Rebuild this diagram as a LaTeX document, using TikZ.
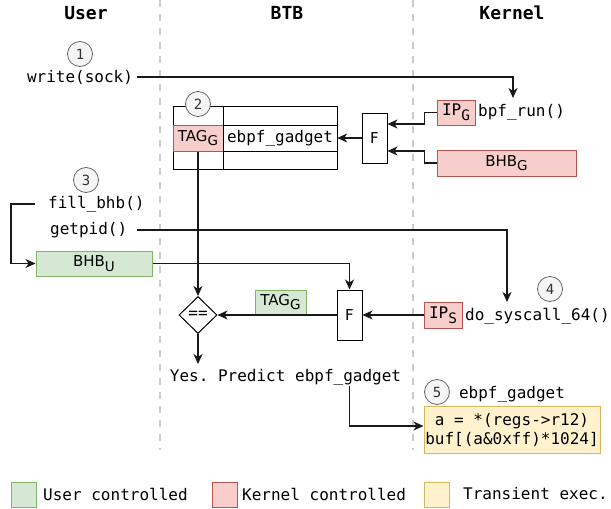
\documentclass[tikz,border=0pt]{standalone}
\usepackage{fontspec}
\setmainfont{DejaVu Sans}
\setmonofont{DejaVu Sans Mono}
\usetikzlibrary{arrows.meta,shapes.geometric,calc}
\definecolor{gfill}{HTML}{D5E8D4}\definecolor{gline}{HTML}{82B366}
\definecolor{rfill}{HTML}{F8CECC}\definecolor{rline}{HTML}{B85450}
\definecolor{yfill}{HTML}{FFF2CC}\definecolor{yline}{HTML}{D6B656}
\definecolor{cfill}{HTML}{F5F5F5}\definecolor{cline}{HTML}{666666}
\definecolor{lanec}{HTML}{CCCCCC}
\newcommand\lsub[1]{\raisebox{-0.3em}{\scalebox{0.9}{#1}}}
\begin{document}
\begin{tikzpicture}[x=1pt,y=-1pt,
  mono/.style={font=\fontsize{16}{19}\selectfont\ttfamily, inner sep=1pt},
  head/.style={font=\fontsize{18}{20}\selectfont\ttfamily\bfseries, inner sep=0},
  sans/.style={font=\fontsize{15}{17}\selectfont},
  boxbase/.style={line width=1pt, inner sep=0},
  gbox/.style={boxbase, draw=gline, fill=gfill, sans},
  rbox/.style={boxbase, draw=rline, fill=rfill},
  ybox/.style={boxbase, draw=yline, fill=yfill},
  fbox/.style={boxbase, draw=black, fill=white, sans, minimum width=25pt, minimum height=50pt},
  num/.style={circle, draw=cline, fill=cfill, line width=0.8pt, minimum size=25pt, inner sep=0,
    font=\fontsize{14}{14}\selectfont\ttfamily, text=black!80},
  conn/.style={line width=1.2pt, draw=black!90},
  arr/.style={conn, -{Stealth[length=10pt,width=9pt,inset=3pt]}},
  lanel/.style={draw=lanec, line width=2pt, dash pattern=on 7pt off 7pt}
]
\useasboundingbox (0,0) rectangle (611,509);

% lanes
\coordinate (l1t) at (160,0); \coordinate (l1b) at (160,450);
\coordinate (l2t) at (413,0); \coordinate (l2b) at (413,450);
\draw[lanel] (l1t) -- (l1b);
\draw[lanel] (l2t) -- (l2b);

% headers
\node[head] (hu) at (86,13) {User};
\node[head] (hb) at (287,13) {BTB};
\node[head] (hk) at (512,13) {Kernel};

% step 1
\node[mono] (write) at (80,77) {write(sock)};
\node[num] (n1) at (80,54) {1};
\coordinate (c1) at (513,98);
\draw[arr] (write.east) ++(3,0) -| (c1);

% BTB table
\draw[line width=1pt] (173,106) rectangle (337,169);
\draw[line width=1pt] (173,125) -- (337,125);
\draw[line width=1pt] (173,151) -- (337,151);
\node[rbox, sans, minimum width=50pt, minimum height=26pt] (tagg) at (198,138) {TAG\lsub{G}};
\draw[line width=1pt] (223,106) -- (223,169);
\node[mono, inner sep=0, minimum width=114pt, minimum height=26pt] (ebpf) at (280,138) {ebpf\_gadget};
\node[num] (n2) at (198,104) {2};

% F1 and kernel inputs
\node[fbox] (f1) at (374.5,138) {F};
\node[rbox, mono, inner sep=0, minimum width=38pt, minimum height=25pt] (ipg) at (456,112.5) {IP\lsub{G}};
\node[mono, anchor=west] (bpfrun) at (477,112) {bpf\_run()};
\node[rbox, sans, minimum width=139pt, minimum height=26pt] (bhbg) at (506.5,163) {BHB\lsub{G}};
\draw[arr] (f1.west) -- (ebpf.east);
\draw[arr] (ipg.west) -- ++(-12,0) |- ([yshift=14pt]f1.east);
\draw[arr] (bhbg.west) -- ++(-12,0) |- ([yshift=-13pt]f1.east);

% step 3
\node[num] (n3) at (86,180) {3};
\node[mono, anchor=west] (fill) at (47,204) {fill\_bhb()};
\node[mono, anchor=west] (getpid) at (49,230) {getpid()};
\node[gbox, minimum width=116pt, minimum height=25pt] (bhbu) at (94,263.5) {BHB\lsub{U}};
\draw[arr] ([xshift=-12pt]fill.west) -- (11,204) |- (bhbu.west);
\coordinate (c4) at (507,302);
\draw[arr] ([xshift=9pt]getpid.east) -| (c4);

% comparison
\node[boxbase, draw=black, fill=white, diamond, minimum width=38pt, minimum height=37pt,
  font=\fontsize{16}{16}\selectfont\ttfamily] (eq) at (198,315) {==};
\node[fbox] (f2) at (349.5,315) {F};
\node[gbox, minimum width=51pt, minimum height=24pt] (tagu) at (280.5,302) {TAG\lsub{G}};
\node[rbox, mono, inner sep=0, minimum width=38pt, minimum height=26pt] (ips) at (443,315) {IP\lsub{S}};
\node[mono, anchor=west] (dosys) at (464,316) {do\_syscall\_64()};
\node[num] (n4) at (550,289) {4};
\draw[arr] (tagg.south) -- (eq.north);
\draw[arr] (bhbu.east) -| (f2.north);
\draw[arr] (f2.west) -- (eq.east);
\draw[arr] (ips.west) -- (f2.east);
\coordinate (c6) at (198,364);
\draw[arr] (eq.south) -- (c6);
\node[mono] (yes) at (285.5,377) {Yes. Predict ebpf\_gadget};

% step 5
\node[num] (n5) at (437,392) {5};
\node[mono] (gname) at (512,394) {ebpf\_gadget};
\node[ybox, mono, inner sep=0, minimum width=176pt, minimum height=47pt, align=center,
  font=\fontsize{16}{19}\selectfont\ttfamily] (yel) at (512,429.5) {a = *(regs->r12)\\buf[(a\&0xff)*1024]};
\draw[arr] (yes.south -| f2) |- ([yshift=3.5pt]yel.west);

% legend
\node[gbox, minimum size=25pt] (lg) at (23.5,494.5) {};
\node[mono, anchor=west] (lgt) at (42,494) {User controlled};
\node[rbox, minimum size=25pt] (lr) at (224.5,494.5) {};
\node[mono, anchor=west] (lrt) at (241,494) {Kernel controlled};
\node[ybox, minimum size=25pt] (ly) at (436.5,494.5) {};
\node[mono, anchor=west] (lyt) at (462,494) {Transient exec.};
\end{tikzpicture}
\end{document}
